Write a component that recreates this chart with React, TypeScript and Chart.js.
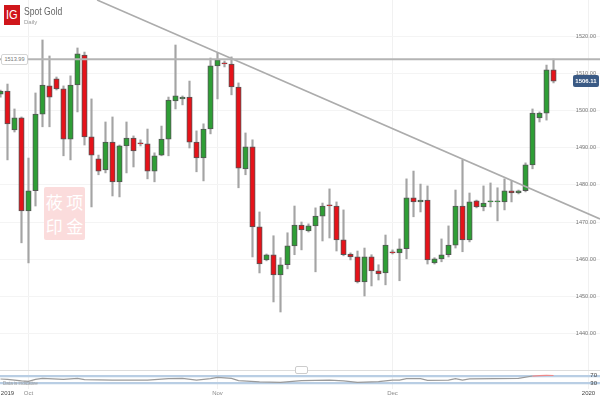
import React, { useEffect, useRef } from "react";
import { Chart, registerables } from "chart.js";

Chart.register(...registerables);

const opens = [1504.4,1505.2,1494.75,1498.0,1473.0,1478.4,1499.0,1506.6,1508.5,1505.8,1492.3,1506.85,1514.9,1492.9,1487.0,1484.0,1491.5,1480.8,1490.45,1492.6,1491.3,1491.0,1483.7,1488.0,1492.3,1502.55,1503.1,1503.6,1491.5,1487.2,1495.0,1512.0,1512.8,1512.5,1506.3,1484.3,1490.2,1468.7,1459.8,1461.2,1455.8,1458.5,1463.6,1469.2,1467.6,1468.95,1471.6,1474.6,1474.3,1465.2,1461.4,1460.6,1453.9,1460.6,1456.85,1456.3,1462.0,1461.7,1462.8,1476.5,1475.4,1475.9,1459.0,1460.1,1461.2,1463.8,1474.3,1465.2,1475.7,1474.05,1475.4,1475.4,1475.4,1478.4,1477.8,1478.4,1485.35,1498.0,1499.3,1510.9];
const highs = [1505.5,1507.1,1500.4,1498.25,1487.2,1504.7,1518.95,1514.65,1509.0,1506.6,1509.3,1516.8,1515.7,1503.1,1488.0,1496.9,1498.25,1490.7,1496.9,1493.15,1492.1,1495.0,1488.6,1495.8,1503.6,1517.6,1503.9,1507.9,1494.5,1496.4,1514.1,1515.5,1513.3,1514.4,1507.4,1493.95,1492.1,1472.7,1461.4,1466.3,1460.4,1467.1,1474.3,1470.0,1469.5,1473.8,1475.1,1478.9,1475.4,1473.25,1461.7,1462.2,1463.0,1461.2,1458.5,1466.5,1462.5,1465.45,1481.6,1483.7,1480.2,1479.7,1460.4,1465.45,1468.95,1478.6,1486.7,1477.8,1475.9,1479.7,1480.5,1479.2,1481.6,1481.05,1478.6,1485.9,1500.4,1499.6,1512.2,1513.8];
const lows = [1503.6,1486.7,1494.2,1464.4,1459.0,1474.3,1495.6,1495.6,1505.5,1487.8,1486.7,1499.6,1490.7,1474.05,1482.7,1483.2,1477.0,1476.75,1483.2,1484.8,1490.45,1481.6,1480.8,1487.8,1487.8,1500.4,1501.5,1489.9,1483.5,1481.05,1493.7,1503.1,1511.7,1504.2,1479.2,1482.7,1460.6,1456.3,1459.55,1448.5,1445.8,1457.4,1461.2,1462.5,1467.3,1456.6,1464.9,1465.7,1462.2,1460.9,1459.8,1453.6,1450.1,1452.8,1454.4,1453.1,1461.4,1454.2,1460.1,1471.4,1472.7,1458.7,1458.7,1459.3,1460.6,1463.0,1462.0,1464.65,1473.8,1473.0,1474.05,1470.3,1473.25,1475.4,1477.55,1478.1,1484.3,1496.9,1497.4,1507.4];
const closes = [1505.2,1496.4,1498.0,1473.0,1478.4,1499.0,1506.85,1503.6,1505.8,1492.3,1506.85,1515.2,1492.9,1488.0,1483.7,1491.5,1480.8,1490.45,1492.6,1489.1,1491.0,1483.7,1487.8,1492.3,1502.8,1503.9,1503.6,1491.5,1487.2,1495.0,1512.0,1513.6,1512.5,1506.3,1484.5,1490.2,1468.7,1458.7,1461.2,1455.8,1458.5,1463.6,1469.2,1467.9,1468.95,1471.6,1474.3,1474.3,1465.2,1461.2,1460.6,1453.9,1460.6,1456.85,1456.05,1463.8,1461.7,1462.8,1476.5,1475.4,1475.9,1459.8,1460.1,1461.2,1463.8,1474.3,1465.2,1475.4,1474.05,1475.1,1475.7,1475.7,1478.4,1477.8,1478.4,1485.35,1499.3,1499.3,1510.9,1507.9];

const priceTicks = [1520, 1510, 1500, 1490, 1480, 1470, 1460, 1450, 1440];
const rsiTicks = [70, 30];
const timeTickIndex = [1, 4, 31, 56, 84];
const timeTickLabels = ["2019", "Oct", "Nov", "Dec", "2020"];

const resistanceLevel = 1513.8;
const trendIndex = [13.8, 85.64];
const trendPrice = [1529.7, 1470.83];

const rsiIndex = [0,1,3,4,5,6,9,11,12,16,21,24,26,28,30,31,33,34,37,40,43,47,49,51,54,56,57,58,60,61,64,65,66,67,74,76,77,78,79];
const rsiValues = [51.8,50,41,39,50,55.5,50,55.5,48,46,46,53.6,55.5,46,53.6,61,55.5,43,35.5,33.6,43,46,41,33.6,37,46,46,53.6,53.6,44.5,46,53.6,46,52,55.5,68,70,72,71];

const X_MIN = -0.07;
const X_MAX = 85.64;
const FONT = "'Liberation Sans', Arial, sans-serif";
const CJK = "'Noto Sans CJK SC', sans-serif";

const flatten = (s: any) => {
  s.paddingTop = 0;
  s.paddingBottom = 0;
  s.paddingLeft = 0;
  s.paddingRight = 0;
};

export default function App() {
  const ref = useRef<HTMLCanvasElement | null>(null);

  useEffect(() => {
    document.body.style.margin = "0";
    const canvas = ref.current!;
    const chart = new Chart(canvas, {
      type: "bar",
      data: {
        datasets: [
          {
            type: "line",
            data: [
              { x: X_MIN, y: resistanceLevel },
              { x: X_MAX, y: resistanceLevel },
            ],
            borderColor: "#b4b4b4",
            borderWidth: 2,
            pointRadius: 0,
            yAxisID: "y",
            order: 0,
          },
          {
            type: "line",
            data: trendIndex.map((x, i) => ({ x, y: trendPrice[i] })),
            borderColor: "#acacac",
            borderWidth: 1.6,
            pointRadius: 0,
            yAxisID: "y",
            order: 0,
          },
          {
            type: "bar",
            data: opens.map((o, i) => ({ x: i, y: [o, closes[i]] })),
            backgroundColor: opens.map((o, i) => (closes[i] >= o ? "#2f9e36" : "#e5131a")),
            borderColor: "#555555",
            borderWidth: 1,
            borderSkipped: false,
            barThickness: 5.4,
            grouped: false,
            yAxisID: "y",
            order: 1,
          },
          {
            type: "bar",
            data: highs.map((h, i) => ({ x: i, y: [lows[i], h] })),
            backgroundColor: "#a4a4a4",
            borderWidth: 0,
            barThickness: 1.5,
            grouped: false,
            yAxisID: "y",
            order: 2,
          },
          {
            type: "line",
            data: rsiIndex.map((x, i) => ({ x, y: rsiValues[i] })),
            borderColor: "#9a9a9a",
            borderWidth: 1.2,
            pointRadius: 0,
            yAxisID: "rsi",
            order: 0,
            segment: {
              borderColor: (ctx: any) => (ctx.p0.parsed.y >= 68 ? "#ee8a8a" : undefined),
            },
          },
        ],
      } as any,
      options: {
        animation: false,
        responsive: false,
        layout: { padding: 0, autoPadding: false },
        plugins: { legend: { display: false }, tooltip: { enabled: false } },
        scales: {
          x: {
            type: "linear",
            offset: false,
            min: X_MIN,
            max: X_MAX,
            afterBuildTicks: (s: any) => {
              s.ticks = timeTickIndex.map((value) => ({ value }));
            },
            afterFit: (s: any) => {
              flatten(s);
              s.height = 11;
            },
            grid: {
              offset: false,
              color: (c: any) => (c.tick && c.tick.value === timeTickIndex[0] ? "rgba(0,0,0,0)" : "#f1f1f1"),
              drawTicks: false,
            },
            border: { display: false },
            ticks: {
              autoSkip: false,
              maxRotation: 0,
              padding: 1,
              includeBounds: false,
              font: { family: FONT, size: 6 },
              color: (c: any) => (c.tick && (c.tick.value === timeTickIndex[1] || c.tick.value === timeTickIndex[2] || c.tick.value === timeTickIndex[3]) ? "#8a8a8a" : "#444444"),
              callback: (v: any) => timeTickLabels[timeTickIndex.indexOf(Number(v))] ?? "",
            },
          },
          y: {
            type: "linear",
            position: "right",
            stack: "panels",
            stackWeight: 370,
            min: 1430.2,
            max: 1529.7,
            afterBuildTicks: (s: any) => {
              s.ticks = priceTicks.map((value) => ({ value }));
            },
            afterFit: (s: any) => {
              flatten(s);
              s.width = 0;
            },
            grid: { color: "#f4f4f4", drawTicks: false },
            border: { display: false },
            ticks: {
              mirror: true,
              autoSkip: false,
              padding: -4,
              font: { family: FONT, size: 5.6 },
              color: "#777777",
              callback: (v: any) => Number(v).toFixed(2),
            },
          },
          rsi: {
            type: "linear",
            position: "right",
            stack: "panels",
            stackWeight: 19,
            min: -3,
            max: 101,
            afterBuildTicks: (s: any) => {
              s.ticks = rsiTicks.map((value) => ({ value }));
            },
            afterFit: (s: any) => {
              flatten(s);
              s.width = 0;
            },
            grid: { color: "#b9cee4", lineWidth: 2.2, drawTicks: false },
            border: { display: false },
            ticks: {
              mirror: true,
              autoSkip: false,
              padding: -3,
              font: { family: FONT, size: 6 },
              color: "#444444",
            },
          },
        },
      } as any,
    });
    return () => chart.destroy();
  }, []);

  const abs = (s: React.CSSProperties): React.CSSProperties => ({
    position: "absolute",
    whiteSpace: "nowrap",
    fontFamily: FONT,
    ...s,
  });

  return (
    <div style={{ position: "relative", width: 600, height: 400, overflow: "hidden", filter: "blur(0.4px)" }}>
      <canvas ref={ref} width={600} height={400} style={{ display: "block" }} />
      <div style={abs({ left: 4, top: 5, width: 16, height: 20, background: "#d0161b", color: "#fff", fontSize: 13, lineHeight: "20px", textAlign: "center", fontWeight: 400 })}>
        <span style={{ display: "inline-block", transform: "scaleX(0.85)" }}>IG</span>
      </div>
      <div style={abs({ left: 24, top: 4, fontSize: 11, lineHeight: "14px", color: "#666", transform: "scaleX(0.78)", transformOrigin: "left" })}>Spot Gold</div>
      <div style={abs({ left: 24, top: 18, fontSize: 6, lineHeight: "8px", color: "#999" })}>Daily</div>
      <div style={abs({ left: 1, top: 54, width: 25, height: 9, lineHeight: "9px", background: "#fff", border: "1px solid #d4d4d4", borderRadius: 2, fontSize: 5.6, textAlign: "center", color: "#777" })}>1513.99</div>
      <div style={abs({ left: 573, top: 75, width: 26, height: 12, lineHeight: "12px", background: "#3a5a85", borderRadius: 2, fontSize: 6, fontWeight: 700, textAlign: "center", color: "#fff" })}>1506.11</div>
      <div style={abs({ left: 44, top: 187, width: 41, height: 53, background: "#fbdcdc", borderRadius: 2, fontFamily: CJK, color: "#fff", fontSize: 17, lineHeight: "24px", display: "grid", gridTemplateColumns: "1fr 1fr", alignContent: "center", justifyItems: "center" })}>
        <span>莜</span>
        <span>项</span>
        <span>印</span>
        <span>金</span>
      </div>
      <div style={abs({ left: 0, top: 370, width: 600, height: 1, background: "#dddddd" })} />
      <div style={abs({ left: 295, top: 366, width: 11, height: 6, background: "#fff", border: "1px solid #cccccc", borderRadius: 2 })} />
      <div style={abs({ left: 3, top: 381, fontSize: 4.6, lineHeight: "6px", color: "#999" })}>Data is indicative</div>
    </div>
  );
}
